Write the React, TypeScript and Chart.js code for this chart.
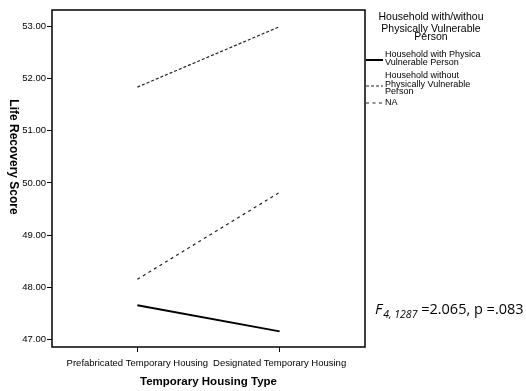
import React, { useEffect, useRef } from 'react';
import { Chart, registerables } from 'chart.js';

Chart.register(...registerables);

const categories = ['Prefabricated Temporary Housing', 'Designated Temporary Housing'];
const seriesNames = [
  'Household with Physically Vulnerable Person',
  'Household without Physically Vulnerable Person',
  'NA',
];
const withVulnerable = [47.65, 47.15];
const withoutVulnerable = [51.84, 53.0];
const naValues = [48.15, 49.82];
const yTickValues = [47, 48, 49, 50, 51, 52, 53];
const legendTitleLines = ['Household with/withou', 'Physically Vulnerable', 'Person'];
const legendLabelLines = [
  ['Household with Physica', 'Vulnerable Person'],
  ['Household without', 'Physically Vulnerable', 'Person'],
  ['NA'],
];
const yTitle = 'Life Recovery Score';
const xTitle = 'Temporary Housing Type';
const statF = 'F';
const statSub = '4, 1287';
const statRest = ' =2.065, p =.083';

const SANS = '"Liberation Sans", Arial, sans-serif';

const overlayPlugin = {
  id: 'overlay',
  afterDraw(chart: any) {
    const { ctx, chartArea: a } = chart;
    ctx.save();
    // frame
    ctx.strokeStyle = '#000';
    ctx.lineWidth = 1.5;
    ctx.setLineDash([]);
    ctx.strokeRect(a.left, a.top, a.right - a.left, a.bottom - a.top);

    ctx.fillStyle = '#000';
    // y title (rotated clockwise)
    ctx.save();
    ctx.font = `bold 12px ${SANS}`;
    ctx.translate(13, 157);
    ctx.rotate(Math.PI / 2);
    ctx.textAlign = 'center';
    ctx.textBaseline = 'middle';
    ctx.fillText(yTitle, 0, 0);
    ctx.restore();

    // x title
    ctx.font = `bold 11.5px ${SANS}`;
    ctx.textAlign = 'center';
    ctx.textBaseline = 'middle';
    ctx.fillText(xTitle, (a.left + a.right) / 2, 382);

    // legend title
    ctx.font = `10.5px ${SANS}`;
    const titleY = [17, 29, 37];
    legendTitleLines.forEach((t, i) => ctx.fillText(t, 431, titleY[i]));

    // legend items
    ctx.font = `9px ${SANS}`;
    ctx.textAlign = 'left';
    const textX = 385;
    const itemLines = [
      [55, 63],
      [76, 85, 92],
      [103],
    ];
    const sampleY = [60, 86, 103];
    chart.data.datasets.forEach((ds: any, i: number) => {
      ctx.save();
      ctx.strokeStyle = ds.borderColor;
      ctx.lineWidth = ds.borderWidth;
      ctx.setLineDash(ds.borderDash || []);
      ctx.beginPath();
      ctx.moveTo(a.right + 1, sampleY[i]);
      ctx.lineTo(a.right + 18, sampleY[i]);
      ctx.stroke();
      ctx.restore();
      legendLabelLines[i].forEach((t, j) => ctx.fillText(t, textX, itemLines[i][j]));
    });

    // statistic annotation
    ctx.textBaseline = 'alphabetic';
    ctx.font = `italic 15px "Open Sans", sans-serif`;
    ctx.fillText(statF, 375, 314);
    let x = 375 + ctx.measureText(statF).width + 1;
    ctx.font = `italic 10.5px "Open Sans", sans-serif`;
    ctx.fillText(statSub, x, 318);
    x += ctx.measureText(statSub).width;
    ctx.font = `14.5px "Open Sans", sans-serif`;
    ctx.fillText(statRest, x, 314);
    ctx.restore();
  },
};

export default function App() {
  const canvasRef = useRef<HTMLCanvasElement | null>(null);

  useEffect(() => {
    if (!canvasRef.current) return;
    const toPoints = (vals: number[]) => vals.map((v, i) => ({ x: i, y: v }));
    const chart = new Chart(canvasRef.current, {
      type: 'line',
      data: {
        datasets: [
          {
            label: seriesNames[0],
            data: toPoints(withVulnerable),
            borderColor: '#000',
            borderWidth: 2,
            borderDash: [],
            pointRadius: 0,
          },
          {
            label: seriesNames[1],
            data: toPoints(withoutVulnerable),
            borderColor: '#222',
            borderWidth: 1.2,
            borderDash: [3, 2],
            pointRadius: 0,
          },
          {
            label: seriesNames[2],
            data: toPoints(naValues),
            borderColor: '#222',
            borderWidth: 1.2,
            borderDash: [3, 3.5],
            pointRadius: 0,
          },
        ],
      },
      options: {
        animation: false,
        responsive: false,
        maintainAspectRatio: false,
        layout: { padding: { left: 0, right: 161, top: 10, bottom: 0 } },
        plugins: {
          legend: { display: false },
          tooltip: { enabled: false },
        },
        scales: {
          x: {
            type: 'linear',
            min: -0.6,
            max: 1.6,
            afterBuildTicks: (scale: any) => {
              scale.ticks = categories.map((_, i) => ({ value: i }));
            },
            afterFit: (scale: any) => {
              scale.height = 44;
            },
            ticks: {
              autoSkip: false,
              maxRotation: 0,
              minRotation: 0,
              padding: 6,
              color: '#000',
              font: { family: SANS, size: 9.5 },
              callback: (v: any) => categories[v] ?? '',
            },
            grid: {
              display: true,
              drawOnChartArea: false,
              drawTicks: true,
              tickLength: 5,
              color: '#000',
            },
            border: { display: false },
            title: { display: false },
          },
          y: {
            type: 'linear',
            min: 46.85,
            max: 53.32,
            afterBuildTicks: (scale: any) => {
              scale.ticks = yTickValues.map((v) => ({ value: v }));
            },
            afterFit: (scale: any) => {
              scale.width = 52;
            },
            ticks: {
              padding: 1,
              color: '#000',
              font: { family: SANS, size: 9.5 },
              callback: (v: any) => Number(v).toFixed(2),
            },
            grid: {
              display: true,
              drawOnChartArea: false,
              drawTicks: true,
              tickLength: 5,
              color: '#000',
            },
            border: { display: false },
            title: { display: false },
          },
        },
      },
      plugins: [overlayPlugin],
    });
    return () => chart.destroy();
  }, []);

  return (
    <div style={{ position: 'absolute', left: 0, top: 0, width: 526, height: 391, background: '#fff' }}>
      <canvas ref={canvasRef} width={526} height={391} style={{ width: 526, height: 391 }} />
    </div>
  );
}
